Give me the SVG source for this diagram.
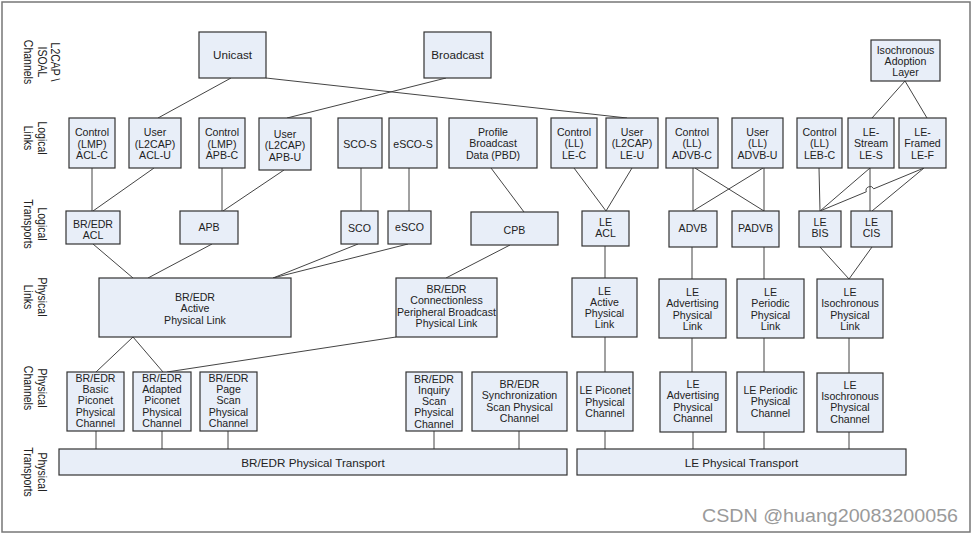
<svg xmlns="http://www.w3.org/2000/svg" width="974" height="535" viewBox="0 0 974 535">
<style>
.n rect{fill:#e8eef8;stroke:#333;stroke-width:1.2}
.n text{font-family:"Liberation Sans",Arial,sans-serif;font-size:10.6px;fill:#222;text-anchor:middle}
.n text.b{font-size:11.7px}
.c line,.c path{stroke:#444;stroke-width:1;fill:none}
.side{font-family:"Liberation Sans",Arial,sans-serif;font-size:10.5px;fill:#222;text-anchor:middle}
.wm{font-family:"Liberation Sans",Arial,sans-serif;font-size:19px;fill:#9a9a9a}
</style>
<rect x="0" y="0" width="974" height="535" fill="#fff"/>
<rect x="2" y="2" width="968" height="530" fill="#fff" stroke="#777" stroke-width="1.5"/>

<g id="side-labels">
<text class="side" transform="translate(59,62) rotate(90) scale(1,1.3)"><tspan x="0" y="6.2">L2CAP \</tspan><tspan x="0" y="16.5">ISOAL</tspan><tspan x="0" y="26.9">Channels</tspan></text>
<text class="side" transform="translate(59,138) rotate(90) scale(1,1.3)"><tspan x="0" y="16.2">Logical</tspan><tspan x="0" y="26.9">Links</tspan></text>
<text class="side" transform="translate(59,224) rotate(90) scale(1,1.3)"><tspan x="0" y="16.2">Logical</tspan><tspan x="0" y="26.9">Transports</tspan></text>
<text class="side" transform="translate(59,297) rotate(90) scale(1,1.3)"><tspan x="0" y="16.2">Physical</tspan><tspan x="0" y="26.9">Links</tspan></text>
<text class="side" transform="translate(59,388) rotate(90) scale(1,1.3)"><tspan x="0" y="16.2">Physical</tspan><tspan x="0" y="26.9">Channels</tspan></text>
<text class="side" transform="translate(59,472) rotate(90) scale(1,1.3)"><tspan x="0" y="16.2">Physical</tspan><tspan x="0" y="26.9">Transports</tspan></text>
</g>

<g id="connectors" class="c">
<line x1="231" y1="78" x2="158" y2="118"/>
<line x1="266" y1="78" x2="627" y2="118"/>
<line x1="446" y1="78" x2="287" y2="118"/>
<line x1="905" y1="81" x2="872" y2="118"/>
<line x1="905" y1="81" x2="927" y2="118"/>
<line x1="92" y1="168" x2="92" y2="211"/>
<line x1="154" y1="168" x2="93" y2="211"/>
<line x1="222" y1="168" x2="222" y2="211"/>
<line x1="284" y1="170" x2="223" y2="211"/>
<line x1="361" y1="168" x2="361" y2="211"/>
<line x1="409" y1="168" x2="409" y2="211"/>
<line x1="491" y1="168" x2="524" y2="212"/>
<line x1="574" y1="168" x2="606" y2="211"/>
<line x1="632" y1="168" x2="606" y2="211"/>
<line x1="693" y1="168" x2="693" y2="211"/>
<line x1="695" y1="168" x2="764" y2="211"/>
<line x1="764" y1="168" x2="764" y2="211"/>
<line x1="763" y1="168" x2="693" y2="211"/>
<line x1="819" y1="168" x2="820" y2="211"/>
<line x1="870" y1="168" x2="820" y2="211"/>
<line x1="870" y1="168" x2="870" y2="211"/>
<path d="M820,211 L866.3,191.8 A4,4 0 0 1 873.7,188.8 L924,168"/>
<line x1="924" y1="168" x2="872" y2="211"/>
<line x1="93" y1="244" x2="133" y2="278"/>
<line x1="212" y1="244" x2="148" y2="278"/>
<line x1="358" y1="244" x2="273" y2="278"/>
<line x1="408" y1="244" x2="273" y2="278"/>
<line x1="510" y1="245" x2="446" y2="278"/>
<line x1="605" y1="246" x2="605" y2="278"/>
<line x1="692" y1="247" x2="692" y2="279"/>
<line x1="764" y1="247" x2="764" y2="279"/>
<line x1="820" y1="247" x2="849" y2="279"/>
<line x1="872" y1="247" x2="849" y2="279"/>
<line x1="133" y1="337" x2="96" y2="372"/>
<line x1="133" y1="337" x2="163" y2="372"/>
<line x1="396" y1="337" x2="167" y2="372"/>
<line x1="605" y1="337" x2="605" y2="372"/>
<line x1="692" y1="338" x2="692" y2="372"/>
<line x1="764" y1="338" x2="764" y2="372"/>
<line x1="849" y1="338" x2="849" y2="373"/>
<line x1="96" y1="431" x2="96" y2="449"/>
<line x1="162" y1="431" x2="162" y2="449"/>
<line x1="228" y1="431" x2="228" y2="449"/>
<line x1="434" y1="431" x2="434" y2="449"/>
<line x1="519" y1="431" x2="519" y2="449"/>
<line x1="605" y1="431" x2="605" y2="449"/>
<line x1="693" y1="432" x2="693" y2="449"/>
<line x1="764" y1="432" x2="764" y2="449"/>
<line x1="849" y1="432" x2="849" y2="449"/>
</g>

<g id="unicast" class="n"><rect x="199" y="32" width="67" height="46"/><text class="b" x="232.5" y="59">Unicast</text></g>
<g id="broadcast" class="n"><rect x="424" y="32" width="67" height="46"/><text class="b" x="457.5" y="59">Broadcast</text></g>
<g id="ial" class="n"><rect x="871" y="40" width="69" height="41"/><text x="905.5" y="53.5">Isochronous</text><text x="905.5" y="64.5">Adoption</text><text x="905.5" y="75.5">Layer</text></g>

<g id="acl-c" class="n"><rect x="69" y="118" width="46" height="50"/><text x="92" y="136.2">Control</text><text x="92" y="147.8">(LMP)</text><text x="92" y="159.4">ACL-C</text></g>
<g id="acl-u" class="n"><rect x="129" y="118" width="52" height="50"/><text x="155" y="136.2">User</text><text x="155" y="147.8">(L2CAP)</text><text x="155" y="159.4">ACL-U</text></g>
<g id="apb-c" class="n"><rect x="199" y="118" width="46" height="50"/><text x="222" y="136.2">Control</text><text x="222" y="147.8">(LMP)</text><text x="222" y="159.4">APB-C</text></g>
<g id="apb-u" class="n"><rect x="259" y="118" width="52" height="52"/><text x="285" y="137.5">User</text><text x="285" y="149">(L2CAP)</text><text x="285" y="160.5">APB-U</text></g>
<g id="sco-s" class="n"><rect x="338" y="118" width="44" height="50"/><text x="360" y="148">SCO-S</text></g>
<g id="esco-s" class="n"><rect x="389" y="118" width="48" height="50"/><text x="413" y="148">eSCO-S</text></g>
<g id="pbd" class="n"><rect x="449" y="118" width="88" height="50"/><text x="493" y="135.6">Profile</text><text x="493" y="147.2">Broadcast</text><text x="493" y="158.8">Data (PBD)</text></g>
<g id="le-c" class="n"><rect x="551" y="118" width="46" height="50"/><text x="574" y="135.6">Control</text><text x="574" y="147.2">(LL)</text><text x="574" y="158.8">LE-C</text></g>
<g id="le-u" class="n"><rect x="606" y="118" width="52" height="50"/><text x="632" y="135.6">User</text><text x="632" y="147.2">(L2CAP)</text><text x="632" y="158.8">LE-U</text></g>
<g id="advb-c" class="n"><rect x="666" y="118" width="52" height="50"/><text x="692" y="135.6">Control</text><text x="692" y="147.2">(LL)</text><text x="692" y="158.8">ADVB-C</text></g>
<g id="advb-u" class="n"><rect x="732" y="118" width="51" height="50"/><text x="757.5" y="135.6">User</text><text x="757.5" y="147.2">(LL)</text><text x="757.5" y="158.8">ADVB-U</text></g>
<g id="leb-c" class="n"><rect x="797" y="118" width="45" height="50"/><text x="819.5" y="135.6">Control</text><text x="819.5" y="147.2">(LL)</text><text x="819.5" y="158.8">LEB-C</text></g>
<g id="le-s" class="n"><rect x="848" y="118" width="46" height="50"/><text x="871" y="135.6">LE-</text><text x="871" y="147.2">Stream</text><text x="871" y="158.8">LE-S</text></g>
<g id="le-f" class="n"><rect x="899" y="118" width="47" height="50"/><text x="922.5" y="135.6">LE-</text><text x="922.5" y="147.2">Framed</text><text x="922.5" y="158.8">LE-F</text></g>

<g id="bredr-acl" class="n"><rect x="66" y="211" width="54" height="33"/><text x="93" y="227.5">BR/EDR</text><text x="93" y="238.5">ACL</text></g>
<g id="apb" class="n"><rect x="180" y="211" width="58" height="33"/><text x="209" y="231">APB</text></g>
<g id="sco" class="n"><rect x="341" y="211" width="37" height="33"/><text x="359.5" y="232">SCO</text></g>
<g id="esco" class="n"><rect x="388" y="211" width="43" height="33"/><text x="409.5" y="231">eSCO</text></g>
<g id="cpb" class="n"><rect x="471" y="212" width="87" height="33"/><text x="514.5" y="233.5">CPB</text></g>
<g id="le-acl" class="n"><rect x="582" y="211" width="47" height="35"/><text x="605.5" y="225.5">LE</text><text x="605.5" y="237">ACL</text></g>
<g id="advb" class="n"><rect x="669" y="211" width="48" height="36"/><text x="693" y="231.5">ADVB</text></g>
<g id="padvb" class="n"><rect x="732" y="211" width="47" height="36"/><text x="755.5" y="231.5">PADVB</text></g>
<g id="le-bis" class="n"><rect x="799" y="211" width="42" height="36"/><text x="820" y="225.5">LE</text><text x="820" y="237">BIS</text></g>
<g id="le-cis" class="n"><rect x="851" y="211" width="41" height="36"/><text x="871.5" y="225.5">LE</text><text x="871.5" y="237">CIS</text></g>

<g id="bredr-apl" class="n"><rect x="99" y="278" width="192" height="59"/><text x="195" y="300.8">BR/EDR</text><text x="195" y="312.4">Active</text><text x="195" y="324">Physical Link</text></g>
<g id="cpb-pl" class="n"><rect x="396" y="278" width="101" height="59"/><text x="446.5" y="292.8">BR/EDR</text><text x="446.5" y="304.2">Connectionless</text><text x="446.5" y="315.6">Peripheral Broadcast</text><text x="446.5" y="327">Physical Link</text></g>
<g id="le-apl" class="n"><rect x="572" y="278" width="65" height="59"/><text x="604.5" y="294.5">LE</text><text x="604.5" y="305.8">Active</text><text x="604.5" y="317.1">Physical</text><text x="604.5" y="328.4">Link</text></g>
<g id="le-adv-pl" class="n"><rect x="659" y="279" width="67" height="59"/><text x="692.5" y="296">LE</text><text x="692.5" y="307.2">Advertising</text><text x="692.5" y="318.5">Physical</text><text x="692.5" y="329.7">Link</text></g>
<g id="le-per-pl" class="n"><rect x="737" y="279" width="67" height="59"/><text x="770.5" y="296">LE</text><text x="770.5" y="307.2">Periodic</text><text x="770.5" y="318.5">Physical</text><text x="770.5" y="329.7">Link</text></g>
<g id="le-iso-pl" class="n"><rect x="817" y="279" width="66" height="59"/><text x="850" y="296">LE</text><text x="850" y="307.2">Isochronous</text><text x="850" y="318.5">Physical</text><text x="850" y="329.7">Link</text></g>

<g id="basic-pc" class="n"><rect x="67" y="372" width="57" height="59"/><text x="95.5" y="381.5">BR/EDR</text><text x="95.5" y="392.9">Basic</text><text x="95.5" y="404.3">Piconet</text><text x="95.5" y="415.7">Physical</text><text x="95.5" y="427.1">Channel</text></g>
<g id="adapted-pc" class="n"><rect x="133" y="372" width="58" height="59"/><text x="162" y="381.5">BR/EDR</text><text x="162" y="392.9">Adapted</text><text x="162" y="404.3">Piconet</text><text x="162" y="415.7">Physical</text><text x="162" y="427.1">Channel</text></g>
<g id="page-pc" class="n"><rect x="200" y="372" width="57" height="59"/><text x="228.5" y="381.5">BR/EDR</text><text x="228.5" y="392.9">Page</text><text x="228.5" y="404.3">Scan</text><text x="228.5" y="415.7">Physical</text><text x="228.5" y="427.1">Channel</text></g>
<g id="inquiry-pc" class="n"><rect x="406" y="372" width="56" height="59"/><text x="434" y="382.5">BR/EDR</text><text x="434" y="393.8">Inquiry</text><text x="434" y="405.1">Scan</text><text x="434" y="416.4">Physical</text><text x="434" y="427.7">Channel</text></g>
<g id="sync-pc" class="n"><rect x="472" y="372" width="95" height="59"/><text x="519.5" y="388">BR/EDR</text><text x="519.5" y="399.3">Synchronization</text><text x="519.5" y="410.6">Scan Physical</text><text x="519.5" y="421.9">Channel</text></g>
<g id="le-pic-pc" class="n"><rect x="577" y="372" width="56" height="59"/><text x="605" y="394">LE Piconet</text><text x="605" y="405.5">Physical</text><text x="605" y="417">Channel</text></g>
<g id="le-adv-pc" class="n"><rect x="660" y="372" width="66" height="60"/><text x="693" y="388">LE</text><text x="693" y="399.3">Advertising</text><text x="693" y="410.6">Physical</text><text x="693" y="421.9">Channel</text></g>
<g id="le-per-pc" class="n"><rect x="737" y="372" width="67" height="60"/><text x="770.5" y="393.8">LE Periodic</text><text x="770.5" y="405.3">Physical</text><text x="770.5" y="416.8">Channel</text></g>
<g id="le-iso-pc" class="n"><rect x="817" y="373" width="66" height="59"/><text x="850" y="388.8">LE</text><text x="850" y="400.1">Isochronous</text><text x="850" y="411.4">Physical</text><text x="850" y="422.7">Channel</text></g>

<g id="bredr-pt" class="n"><rect x="59" y="449" width="508" height="26"/><text class="b" x="313" y="466.5">BR/EDR Physical Transport</text></g>
<g id="le-pt" class="n"><rect x="577" y="449" width="329" height="26"/><text class="b" x="741.5" y="466.5">LE Physical Transport</text></g>

<text class="wm" x="702" y="522" textLength="256" lengthAdjust="spacingAndGlyphs">CSDN @huang20083200056</text>
</svg>
